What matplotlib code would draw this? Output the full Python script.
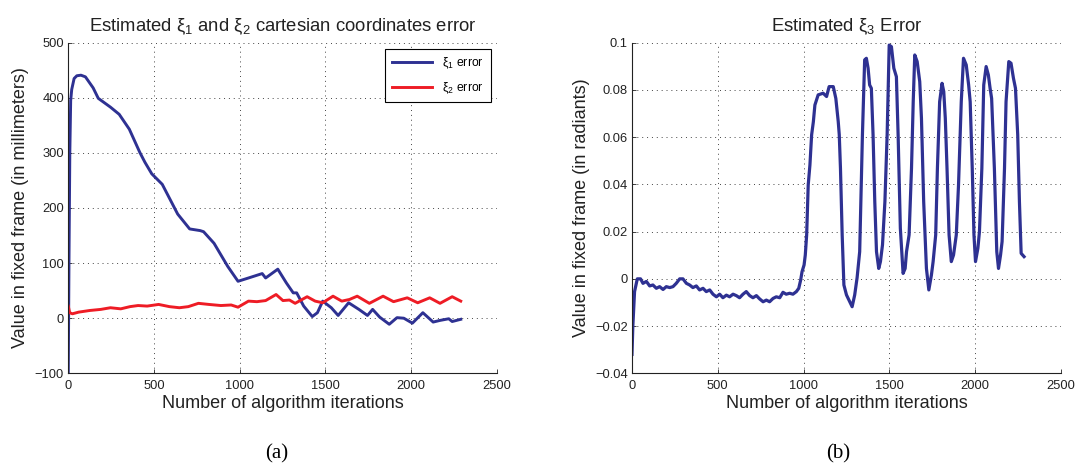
import numpy as np
import matplotlib
matplotlib.use("Agg")
import matplotlib.pyplot as plt
from matplotlib.ticker import FuncFormatter

plt.rcParams['font.family'] = ['Liberation Sans', 'DejaVu Sans']
plt.rcParams['mathtext.fontset'] = 'custom'
plt.rcParams['mathtext.rm'] = 'Liberation Sans'
plt.rcParams['mathtext.it'] = 'Liberation Sans'
plt.rcParams['axes.unicode_minus'] = True

# xi_1 error (mm)
xi1_iter = [0, 4, 9, 14, 20, 34, 50, 74, 100, 145, 175, 246, 297, 356, 417, 447, 487,
            548, 588, 638, 708, 769, 789, 850, 930, 990, 1051, 1131, 1151, 1222, 1272,
            1312, 1332, 1373, 1423, 1453, 1484, 1534, 1574, 1635, 1695, 1745, 1775,
            1816, 1872, 1917, 1957, 2007, 2068, 2128, 2168, 2219, 2239, 2289]
xi1_err = [-100, 100, 300, 395, 415, 435, 440, 441, 438, 418, 399, 383, 370, 343, 301,
           283, 262, 243, 219, 189, 162, 159, 157, 136, 94, 67, 73, 81, 73, 89, 64,
           46, 46, 22, 3, 10, 31, 19, 5, 28, 16, 5, 16, 2, -11, 1, 0, -9, 10, -7, -4,
           -1, -6, -2]

# xi_2 error (mm)
xi2_iter = [0, 8, 24, 60, 125, 190, 246, 306, 360, 407, 460, 527, 590, 648, 700, 759,
            820, 890, 950, 990, 1051, 1100, 1151, 1212, 1252, 1290, 1323, 1393, 1440,
            1484, 1544, 1595, 1640, 1685, 1756, 1836, 1897, 1977, 2038, 2108, 2168,
            2239, 2289]
xi2_err = [22, 10, 8, 11, 14, 16, 19, 17, 21, 23, 22, 25, 21, 19, 21, 27, 25, 23, 24,
           20, 31, 30, 32, 43, 32, 33, 27, 39, 31, 28, 40, 31, 34, 40, 27, 40, 30, 37,
           28, 37, 27, 39, 31]

# xi_3 error (rad)
xi3_iter = [0, 5, 15, 31, 50, 64, 84, 103, 122, 142, 161, 181, 200, 220, 239, 258,
            278, 297, 317, 336, 355, 375, 394, 414, 433, 453, 472, 492, 511, 530, 550,
            569, 589, 608, 627, 647, 666, 686, 705, 725, 744, 764, 783, 802, 822, 841,
            861, 880, 899, 919, 938, 958, 972, 983, 991, 1003, 1010, 1018, 1027, 1037,
            1047, 1057, 1066, 1085, 1114, 1134, 1149, 1173, 1188, 1202, 1208, 1215,
            1225, 1235, 1250, 1269, 1283, 1298, 1312, 1327, 1331, 1343, 1356, 1366,
            1376, 1385, 1395, 1405, 1415, 1425, 1438, 1448, 1460, 1474, 1487, 1499,
            1512, 1526, 1541, 1551, 1564, 1580, 1592, 1600, 1615, 1629, 1639, 1648,
            1662, 1677, 1687, 1700, 1716, 1730, 1745, 1755, 1770, 1780, 1793, 1807,
            1817, 1826, 1836, 1848, 1861, 1874, 1890, 1903, 1919, 1932, 1948, 1962,
            1971, 1983, 1993, 2002, 2016, 2025, 2039, 2050, 2064, 2077, 2087, 2096,
            2112, 2126, 2136, 2148, 2157, 2171, 2180, 2196, 2209, 2223, 2235, 2248,
            2258, 2268, 2285]
xi3_err = [-0.032, -0.02, -0.0054, 0.0, 0.0, -0.0019, -0.0011, -0.003, -0.0026, -0.004,
           -0.0033, -0.0045, -0.0033, -0.0037, -0.0033, -0.0019, 0.0, 0.0, -0.0019,
           -0.0026, -0.0037, -0.003, -0.0047, -0.004, -0.0054, -0.0047, -0.0065,
           -0.0076, -0.0065, -0.008, -0.0069, -0.0076, -0.0065, -0.0071, -0.008,
           -0.0065, -0.0054, -0.0071, -0.008, -0.0071, -0.0085, -0.0097, -0.009,
           -0.0097, -0.0083, -0.0076, -0.008, -0.0057, -0.0065, -0.0061, -0.0065,
           -0.0054, -0.004, -0.0005, 0.003, 0.0059, 0.0101, 0.0186, 0.0397, 0.0482,
           0.061, 0.0665, 0.0736, 0.0779, 0.0786, 0.0772, 0.0814, 0.0814, 0.0764,
           0.0666, 0.061, 0.0468, 0.0186, -0.0026, -0.0068, -0.0097, -0.0118, -0.0068,
           0.0005, 0.0115, 0.0235, 0.061, 0.0927, 0.0934, 0.0892, 0.0821, 0.0807,
           0.061, 0.0327, 0.0115, 0.0044, 0.0073, 0.0144, 0.0327, 0.061, 0.099,
           0.0983, 0.0892, 0.0856, 0.061, 0.0214, 0.0023, 0.0044, 0.0115, 0.0186,
           0.0468, 0.075, 0.0948, 0.092, 0.0835, 0.068, 0.0327, 0.0044, -0.0047,
           0.0016, 0.0073, 0.0186, 0.0468, 0.075, 0.0828, 0.0793, 0.068, 0.0468,
           0.0186, 0.0073, 0.0101, 0.0186, 0.0397, 0.075, 0.0934, 0.0906, 0.0821,
           0.075, 0.0468, 0.0186, 0.0073, 0.013, 0.02, 0.0468, 0.0821, 0.0899, 0.0863,
           0.0807, 0.0764, 0.0468, 0.0115, 0.0044, 0.0101, 0.0158, 0.0468, 0.075,
           0.092, 0.0913, 0.085, 0.0807, 0.061, 0.0327, 0.0108, 0.0094]

BLUE = '#2e3192'
RED = '#ee1c25'

fig = plt.figure(figsize=(10.77, 4.66), dpi=100)
ax1 = fig.add_axes([0.0634, 0.1989, 0.398, 0.7095])
ax2 = fig.add_axes([0.5868, 0.1989, 0.3983, 0.7095])


def matlab_style(ax):
    for side in ('top', 'right'):
        ax.spines[side].set_visible(False)
    for side in ('left', 'bottom'):
        ax.spines[side].set_linewidth(0.8)
        ax.spines[side].set_color('#222222')
    ax.tick_params(direction='in', length=3, width=0.6, labelsize=9.3,
                   colors='#222222', pad=3)
    ax.tick_params(axis='x', pad=5)
    ax.grid(True, color='#444444', linestyle=(0, (1, 4)), linewidth=0.7)
    ax.set_axisbelow(True)
    ax.set_xlim(0, 2500)
    ax.set_xticks(np.arange(0, 2501, 500))
    ax.set_xlabel('Number of algorithm iterations', fontsize=13, labelpad=2,
                  color='#222222')


fmt = FuncFormatter(lambda v, p: ('%g' % round(v, 6)).replace('-', '\u2212'))

# left panel: cartesian errors
matlab_style(ax1)
ax1.plot(xi1_iter, xi1_err, color=BLUE, lw=2.1, label='ξ$_1$ error')
ax1.plot(xi2_iter, xi2_err, color=RED, lw=2.1, label='ξ$_2$ error')
ax1.set_ylim(-100, 500)
ax1.set_yticks(np.arange(-100, 501, 100))
ax1.yaxis.set_major_formatter(fmt)
ax1.set_ylabel('Value in fixed frame (in millimeters)', fontsize=13,
               labelpad=4, color='#222222')
ax1.set_title('Estimated ξ$_1$ and ξ$_2$ cartesian coordinates error',
              fontsize=13.3, pad=8, color='#222222')
leg = ax1.legend(loc='upper right', fontsize=8.8, fancybox=False,
                 edgecolor='black', framealpha=1, handlelength=3.3,
                 borderaxespad=0.5, borderpad=0.55, labelspacing=0.75)
leg.get_frame().set_linewidth(0.8)

# right panel: orientation error
matlab_style(ax2)
ax2.plot(xi3_iter, xi3_err, color=BLUE, lw=2.3)
ax2.set_ylim(-0.04, 0.1)
ax2.set_yticks(np.arange(-0.04, 0.1001, 0.02))
ax2.yaxis.set_major_formatter(fmt)
ax2.set_ylabel('Value in fixed frame (in radiants)', fontsize=13,
               labelpad=4, color='#222222')
ax2.set_title('Estimated ξ$_3$ Error', fontsize=13.3, pad=8, color='#222222')

fig.text(277 / 1077, 0.027, '(a)', family='Liberation Serif', fontsize=15,
         ha='center', va='center')
fig.text(838 / 1077, 0.027, '(b)', family='Liberation Serif', fontsize=15,
         ha='center', va='center')

fig.savefig('out.png', dpi=100)
